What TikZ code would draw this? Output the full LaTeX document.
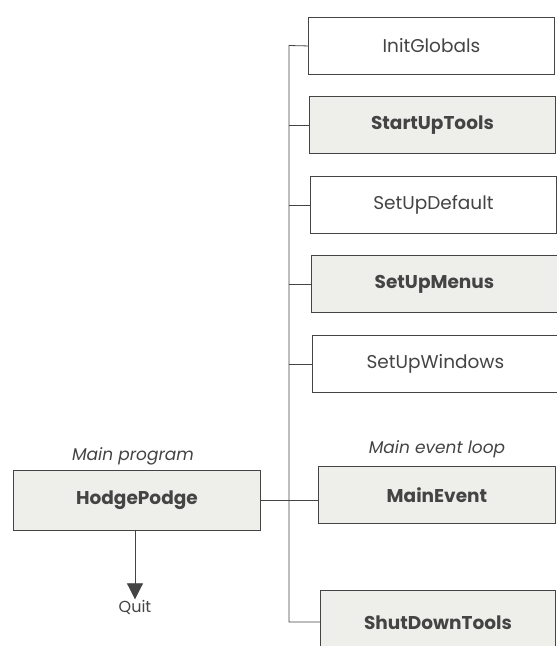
\documentclass[tikz,border=0pt]{standalone}
\usepackage{fontspec}
\setmainfont{Poppins}
\usetikzlibrary{arrows.meta}
\definecolor{ink}{HTML}{444444}
\definecolor{shade}{HTML}{EEEEEA}
\tikzset{
  plainbox/.style={draw=ink, line width=0.9pt, fill=white, minimum width=246pt, minimum height=57pt, anchor=north west, inner sep=0pt, text=ink, font=\fontsize{18.5}{20}\selectfont},
  boldbox/.style={plainbox, fill=shade, font=\fontsize{18.5}{20}\selectfont\bfseries},
  wire/.style={draw=ink, line width=0.8pt},
  caption/.style={text=ink, font=\fontsize{17}{19}\selectfont\itshape},
}
\begin{document}
\begin{tikzpicture}[x=1pt,y=-1pt]
\useasboundingbox (0,0) rectangle (557,646);
\clip (0,0) rectangle (557,646);
\node[plainbox] (ig) at (308,17) {InitGlobals};
\node[boldbox] (su) at (309,96) {StartUpTools};
\node[plainbox] (sd) at (310,176) {SetUpDefault};
\node[boldbox] (sm) at (311,255) {SetUpMenus};
\node[plainbox] (sw) at (312,335) {SetUpWindows};
\node[boldbox, minimum width=237pt] (me) at (318,466) {MainEvent};
\node[boldbox, minimum width=235pt, minimum height=64pt] (st) at (320,590) {ShutDownTools};
\node[draw=ink, line width=0.9pt, fill=shade, minimum width=247pt, minimum height=60pt, inner sep=0pt, anchor=north west, text=ink, font=\fontsize{18.5}{20}\selectfont\bfseries] (hp) at (13,470) {HodgePodge};
\node[caption, anchor=south] at (133,469) {Main program};
\node[caption, anchor=south] at (437,461) {Main event loop};
\node[text=ink, font=\fontsize{16}{18}\selectfont] (quit) at (135,607) {Quit};
\coordinate (top) at (289,45.5);
\coordinate (bot) at (289,622);
\draw[wire] (ig.west) -- (top) -- (bot) -- (st.west |- bot);
\draw[wire] (su.west) -- (su.west -| top);
\draw[wire] (sd.west) -- (sd.west -| top);
\draw[wire] (sm.west) -- (sm.west -| top);
\draw[wire] (sw.west) -- (sw.west -| top);
\draw[wire] (hp.east) -- (me.west |- hp.east);
\draw[wire, -{Triangle[length=16pt,width=16pt]}, fill=ink] (hp.south -| quit) -- ([yshift=-3pt]quit.north);
\end{tikzpicture}
\end{document}
